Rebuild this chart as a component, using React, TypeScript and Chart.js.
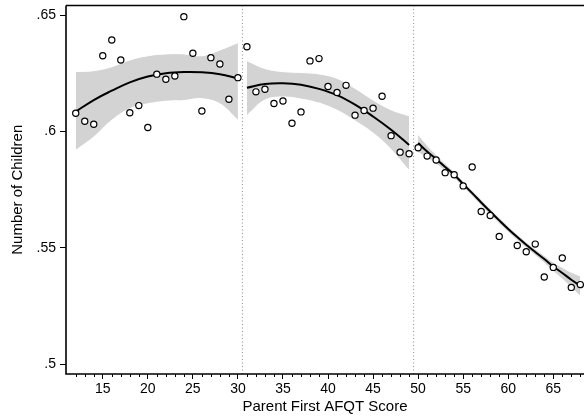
import { useEffect, useRef } from "react"
import { Chart, registerables } from "chart.js"

Chart.register(...registerables)

// binned scatter: mean number of children by parent AFQT score
const scores = [
  12, 13, 14, 15, 16, 17, 18, 19, 20, 21, 22, 23, 24, 25, 26, 27, 28, 29, 30,
  31, 32, 33, 34, 35, 36, 37, 38, 39, 40, 41, 42, 43, 44, 45, 46, 47, 48, 49,
  50, 51, 52, 53, 54, 55, 56, 57, 58, 59, 61, 62, 63, 64, 65, 66, 67, 68,
]
const children = [
  0.6078, 0.6044, 0.6031, 0.6325, 0.6393, 0.6307, 0.608, 0.6111, 0.6017, 0.6246,
  0.6224, 0.6238, 0.6493, 0.6336, 0.6088, 0.6317, 0.629, 0.6138, 0.6231,
  0.6364, 0.617, 0.6181, 0.612, 0.6131, 0.6035, 0.6084, 0.6303, 0.6313, 0.6193,
  0.6167, 0.6198, 0.607, 0.609, 0.61, 0.6151, 0.5982, 0.5911, 0.5904,
  0.593, 0.5894, 0.5877, 0.5823, 0.5814, 0.5766, 0.5847, 0.5656, 0.5639, 0.5549,
  0.551, 0.5483, 0.5516, 0.5375, 0.5416, 0.5456, 0.533, 0.5342,
]

// local polynomial fits with confidence bands, one per segment
const fitScores1 = [12, 14, 16, 18, 20, 22, 24, 26, 28, 30]
const fit1 = [0.6085, 0.6135, 0.6175, 0.6211, 0.6236, 0.625, 0.6255, 0.6254, 0.6246, 0.6228]
const upper1 = [0.6257, 0.6261, 0.6278, 0.6307, 0.6325, 0.6333, 0.6333, 0.6325, 0.635, 0.6381]
const lower1 = [0.5921, 0.5978, 0.605, 0.61, 0.6121, 0.6132, 0.6135, 0.6143, 0.6121, 0.605]

const fitScores2 = [31, 33, 35, 37, 39, 41, 43, 45, 47, 49]
const fit2 = [0.6188, 0.6204, 0.6207, 0.6201, 0.6183, 0.6156, 0.6115, 0.6064, 0.6007, 0.5942]
const upper2 = [0.6304, 0.627, 0.6257, 0.6253, 0.6247, 0.6228, 0.6185, 0.6135, 0.6093, 0.6067]
const lower2 = [0.6071, 0.6137, 0.615, 0.6142, 0.6124, 0.6093, 0.6048, 0.5995, 0.5925, 0.5835]

const fitScores3 = [50, 51, 52, 53, 54, 55, 56, 57, 58, 59, 60, 61, 62, 63, 64, 65, 66, 67, 68]
const fit3 = [
  0.595, 0.5914, 0.5881, 0.5847, 0.5814, 0.5774, 0.5735, 0.5695, 0.5656, 0.5618,
  0.5581, 0.5546, 0.5513, 0.5482, 0.5452, 0.542, 0.5392, 0.5363, 0.5337,
]
const upper3 = [
  0.5987, 0.594, 0.59, 0.5862, 0.5827, 0.5786, 0.5747, 0.5707, 0.5668, 0.563,
  0.5593, 0.5558, 0.5525, 0.5495, 0.5467, 0.5438, 0.5416, 0.5395, 0.5379,
]
const lower3 = [
  0.5913, 0.5888, 0.5862, 0.5832, 0.5801, 0.5762, 0.5723, 0.5683, 0.5644, 0.5606,
  0.5569, 0.5534, 0.5501, 0.5469, 0.5437, 0.5402, 0.5368, 0.5331, 0.5295,
]

const cutoffs = [30.5, 49.5]
const xTicks = [15, 20, 25, 30, 35, 40, 45, 50, 55, 60, 65]
const minorTicks = [
  12, 13, 14, 16, 17, 18, 19, 21, 22, 23, 24, 26, 27, 28, 29, 31, 32, 33, 34,
  36, 37, 38, 39, 41, 42, 43, 44, 46, 47, 48, 49, 51, 52, 53, 54, 56, 57, 58, 59,
  61, 62, 63, 64, 66, 67, 68,
]
const yTicks = [0.5, 0.55, 0.6, 0.65]

const X_MIN = 10.92
const X_MAX = 68.41
const Y_MIN = 0.4958
const Y_MAX = 0.6541

const FONT = "'Liberation Sans', Arial, Helvetica, sans-serif"
const BAND = "#d3d3d3"

const pts = (xs: number[], ys: number[]) => xs.map((x, i) => ({ x, y: ys[i] }))

// axis frame (left, bottom, top) and the small unlabelled ticks on the x axis
const axisExtras = {
  id: "axisExtras",
  afterDraw(chart: Chart) {
    const { ctx, chartArea, scales } = chart
    const { left, right, top, bottom } = chartArea
    ctx.save()
    ctx.setLineDash([])
    ctx.strokeStyle = "#000"
    ctx.lineWidth = 1.6
    ctx.beginPath()
    ctx.moveTo(left, top)
    ctx.lineTo(right, top)
    ctx.moveTo(left, top)
    ctx.lineTo(left, bottom)
    ctx.lineTo(right, bottom)
    ctx.stroke()
    ctx.lineWidth = 1
    ctx.beginPath()
    for (const v of minorTicks) {
      const px = Math.round(scales.x.getPixelForValue(v)) + 0.5
      ctx.moveTo(px, bottom)
      ctx.lineTo(px, bottom + 3)
    }
    ctx.stroke()
    ctx.restore()
  },
}

function band(xs: number[], hi: number[], lo: number[]) {
  return [
    {
      data: pts(xs, hi),
      borderColor: "#fff",
      borderWidth: 1,
      backgroundColor: BAND,
      pointRadius: 0,
      tension: 0.4,
      fill: "+1",
      order: 4,
    },
    {
      data: pts(xs, lo),
      borderColor: "#fff",
      borderWidth: 1,
      pointRadius: 0,
      tension: 0.4,
      fill: false,
      order: 4,
    },
  ]
}

function fitLine(xs: number[], ys: number[]) {
  return {
    data: pts(xs, ys),
    borderColor: "#000",
    borderWidth: 2,
    pointRadius: 0,
    tension: 0.4,
    fill: false,
    order: 2,
  }
}

// drop the label overhang padding so the plot area fills the frame
const noPad = (s: any) => {
  s.paddingTop = 0
  s.paddingBottom = 0
  s.paddingLeft = 0
  s.paddingRight = 0
}

export default function App() {
  const chartRef = useRef<HTMLCanvasElement>(null)
  const chartInstance = useRef<Chart | null>(null)

  useEffect(() => {
    if (!chartRef.current) return
    const ctx = chartRef.current.getContext("2d")
    if (!ctx) return

    chartInstance.current = new Chart(ctx, {
      type: "line",
      data: {
        datasets: [
          ...band(fitScores1, upper1, lower1),
          ...band(fitScores2, upper2, lower2),
          ...band(fitScores3, upper3, lower3),
          ...cutoffs.map((c) => ({
            data: [
              { x: c, y: Y_MAX },
              { x: c, y: Y_MIN },
            ],
            borderColor: "#8c8c8c",
            borderWidth: 1,
            borderDash: [1, 2.5],
            pointRadius: 0,
            fill: false,
            order: 5,
          })),
          fitLine(fitScores1, fit1),
          fitLine(fitScores2, fit2),
          fitLine(fitScores3, fit3),
          {
            data: pts(scores, children),
            showLine: false,
            pointRadius: 3.1,
            pointBorderWidth: 1.2,
            pointBorderColor: "#000",
            pointBackgroundColor: "#fff",
            order: 1,
          },
        ] as any,
      },
      options: {
        responsive: false,
        animation: false,
        events: [],
        layout: { autoPadding: false, padding: { top: 5.5, left: 0, right: 0, bottom: 0 } },
        plugins: {
          legend: { display: false },
          tooltip: { enabled: false },
        },
        scales: {
          x: {
            type: "linear",
            min: X_MIN,
            max: X_MAX,
            afterBuildTicks: (s) => {
              s.ticks = xTicks.map((value) => ({ value }))
            },
            afterFit: (s) => {
              s.height = 43
              noPad(s)
            },
            grid: {
              drawOnChartArea: false,
              tickLength: 5,
              color: "#000",
            },
            border: { display: false },
            ticks: {
              color: "#000",
              font: { family: FONT, size: 14 },
              padding: 2,
              maxRotation: 0,
              autoSkip: false,
            },
            title: {
              display: true,
              text: "Parent First AFQT Score",
              color: "#000",
              font: { family: FONT, size: 15 },
              padding: { top: 0, bottom: 1 },
            },
          },
          y: {
            type: "linear",
            min: Y_MIN,
            max: Y_MAX,
            afterBuildTicks: (s) => {
              s.ticks = yTicks.map((value) => ({ value }))
            },
            afterFit: (s) => {
              s.width = 66
              noPad(s)
            },
            grid: {
              drawOnChartArea: false,
              tickLength: 6,
              color: "#000",
            },
            border: { display: false },
            ticks: {
              color: "#000",
              font: { family: FONT, size: 14 },
              padding: 4,
              callback: (v) => String(v).replace(/^0/, ""),
            },
            title: {
              display: true,
              text: "Number of Children",
              color: "#000",
              font: { family: FONT, size: 15 },
              padding: { top: 9, bottom: 0 },
            },
          },
        },
      },
      plugins: [axisExtras],
    })

    return () => {
      chartInstance.current?.destroy()
    }
  }, [])

  return (
    <div style={{ position: "absolute", left: 0, top: 0, width: 584, height: 417 }}>
      <canvas ref={chartRef} width={584} height={417} style={{ display: "block" }} />
    </div>
  )
}
